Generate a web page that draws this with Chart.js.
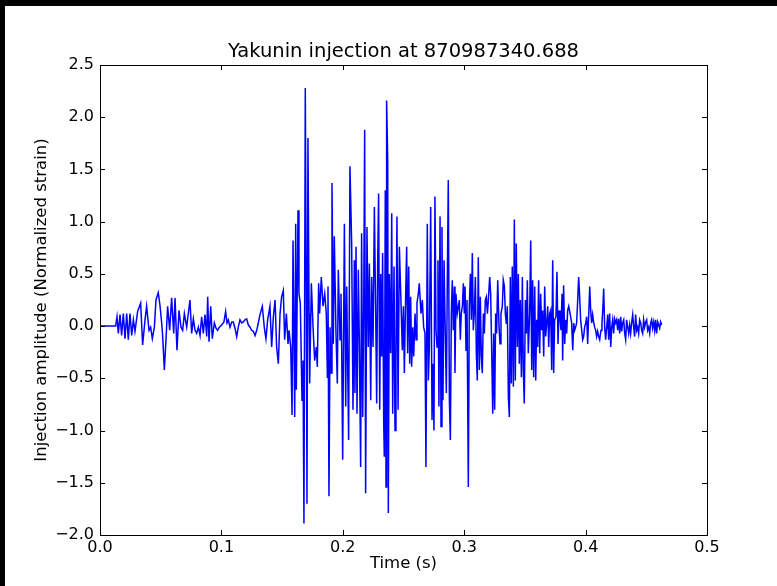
<!DOCTYPE html>
<html>
<head>
<meta charset="utf-8">
<title>Yakunin injection</title>
<script src="https://cdn.jsdelivr.net/npm/chart.js@4.4.0/dist/chart.umd.min.js"></script>
<style>
    html, body { margin: 0; padding: 0; background: #000; }
    #chart { display: block; }
</style>
</head>
<body>
<canvas id="chart" width="777" height="586"></canvas>
<script>
// yakunin.js
// Injection waveform (normalized strain vs time), matplotlib-like look

const chartTitle = 'Yakunin injection at 870987340.688';
const xLabel = 'Time (s)';
const yLabel = 'Injection amplitude (Normalized strain)';

// --- Data ---

const timeS = [
    0.0000, 0.0120, 0.0129, 0.0140, 0.0151, 0.0165, 0.0178, 0.0192, 0.0206, 0.0220,
    0.0233, 0.0247, 0.0261, 0.0275, 0.0288, 0.0310, 0.0335, 0.0351, 0.0371, 0.0384,
    0.0404, 0.0417, 0.0431, 0.0448, 0.0461, 0.0480, 0.0494, 0.0508, 0.0516, 0.0530,
    0.0544, 0.0557, 0.0574, 0.0590, 0.0607, 0.0618, 0.0634, 0.0651, 0.0667, 0.0681,
    0.0695, 0.0714, 0.0741, 0.0755, 0.0769, 0.0783, 0.0796, 0.0810, 0.0824, 0.0837,
    0.0851, 0.0865, 0.0879, 0.0887, 0.0898, 0.0912, 0.0925, 0.0942, 0.0956, 0.0969,
    0.0983, 0.1002, 0.1021, 0.1035, 0.1046, 0.1057, 0.1071, 0.1085, 0.1098, 0.1112,
    0.1126, 0.1139, 0.1153, 0.1167, 0.1181, 0.1194, 0.1208, 0.1222, 0.1236, 0.1249,
    0.1263, 0.1277, 0.1291, 0.1304, 0.1318, 0.1337, 0.1354, 0.1367, 0.1381, 0.1400,
    0.1414, 0.1428, 0.1442, 0.1455, 0.1469, 0.1483, 0.1496, 0.1510, 0.1521, 0.1535,
    0.1549, 0.1557, 0.1571, 0.1582, 0.1590, 0.1604, 0.1612, 0.1617, 0.1631, 0.1639,
    0.1650, 0.1664, 0.1672, 0.1680, 0.1691, 0.1700, 0.1705, 0.1713, 0.1722, 0.1727,
    0.1741, 0.1755, 0.1768, 0.1782, 0.1790, 0.1801, 0.1809, 0.1823, 0.1837, 0.1851,
    0.1864, 0.1873, 0.1878, 0.1886, 0.1895, 0.1903, 0.1911, 0.1922, 0.1930, 0.1944,
    0.1955, 0.1963, 0.1977, 0.1985, 0.1991, 0.1999, 0.2013, 0.2024, 0.2032, 0.2048,
    0.2059, 0.2073, 0.2084, 0.2095, 0.2100, 0.2109, 0.2117, 0.2128, 0.2136, 0.2147,
    0.2155, 0.2164, 0.2172, 0.2180, 0.2188, 0.2199, 0.2210, 0.2219, 0.2230, 0.2238,
    0.2249, 0.2260, 0.2271, 0.2279, 0.2287, 0.2295, 0.2304, 0.2312, 0.2320, 0.2328,
    0.2337, 0.2342, 0.2350, 0.2356, 0.2361, 0.2370, 0.2375, 0.2383, 0.2394, 0.2403,
    0.2411, 0.2422, 0.2430, 0.2438, 0.2446, 0.2455, 0.2466, 0.2474, 0.2482, 0.2490,
    0.2499, 0.2507, 0.2515, 0.2526, 0.2534, 0.2543, 0.2551, 0.2559, 0.2567, 0.2576,
    0.2584, 0.2595, 0.2603, 0.2611, 0.2622, 0.2630, 0.2644, 0.2655, 0.2666, 0.2677,
    0.2685, 0.2696, 0.2705, 0.2713, 0.2724, 0.2735, 0.2743, 0.2751, 0.2759, 0.2768,
    0.2776, 0.2784, 0.2792, 0.2801, 0.2809, 0.2817, 0.2825, 0.2834, 0.2845, 0.2853,
    0.2861, 0.2869, 0.2878, 0.2886, 0.2894, 0.2902, 0.2910, 0.2919, 0.2924, 0.2932,
    0.2943, 0.2952, 0.2960, 0.2968, 0.2976, 0.2985, 0.2993, 0.3001, 0.3007, 0.3015,
    0.3023, 0.3034, 0.3042, 0.3051, 0.3059, 0.3067, 0.3075, 0.3083, 0.3092, 0.3100,
    0.3108, 0.3116, 0.3125, 0.3133, 0.3141, 0.3149, 0.3158, 0.3166, 0.3174, 0.3182,
    0.3191, 0.3199, 0.3210, 0.3218, 0.3226, 0.3235, 0.3243, 0.3251, 0.3259, 0.3267,
    0.3276, 0.3287, 0.3295, 0.3303, 0.3314, 0.3322, 0.3331, 0.3339, 0.3347, 0.3355,
    0.3364, 0.3372, 0.3380, 0.3388, 0.3396, 0.3405, 0.3413, 0.3421, 0.3429, 0.3438,
    0.3446, 0.3454, 0.3462, 0.3471, 0.3479, 0.3487, 0.3495, 0.3504, 0.3512, 0.3520,
    0.3528, 0.3539, 0.3548, 0.3556, 0.3564, 0.3572, 0.3581, 0.3589, 0.3597, 0.3605,
    0.3613, 0.3622, 0.3630, 0.3638, 0.3646, 0.3655, 0.3663, 0.3671, 0.3679, 0.3688,
    0.3696, 0.3704, 0.3712, 0.3721, 0.3729, 0.3737, 0.3745, 0.3756, 0.3764, 0.3773,
    0.3781, 0.3789, 0.3797, 0.3806, 0.3811, 0.3819, 0.3828, 0.3836, 0.3844, 0.3852,
    0.3861, 0.3877, 0.3885, 0.3894, 0.3902, 0.3910, 0.3918, 0.3926, 0.3935, 0.3943,
    0.3951, 0.3959, 0.3968, 0.3976, 0.3984, 0.3992, 0.4001, 0.4009, 0.4017, 0.4025,
    0.4034, 0.4042, 0.4050, 0.4058, 0.4067, 0.4075, 0.4083, 0.4091, 0.4099, 0.4108,
    0.4116, 0.4119, 0.4127, 0.4135, 0.4143, 0.4149, 0.4157, 0.4165, 0.4174, 0.4182,
    0.4190, 0.4198, 0.4207, 0.4215, 0.4223, 0.4231, 0.4239, 0.4248, 0.4256, 0.4264,
    0.4272, 0.4281, 0.4289, 0.4297, 0.4305, 0.4314, 0.4322, 0.4330, 0.4338, 0.4347,
    0.4355, 0.4363, 0.4371, 0.4379, 0.4388, 0.4396, 0.4404, 0.4412, 0.4421, 0.4429,
    0.4437, 0.4445, 0.4454, 0.4462, 0.4470, 0.4478, 0.4486, 0.4495, 0.4503, 0.4511,
    0.4519, 0.4528, 0.4536, 0.4544, 0.4552, 0.4561, 0.4569, 0.4577, 0.4585, 0.4594,
    0.4602, 0.4610, 0.4618, 0.4627
];

const strain = [
    0.00, 0.00, 0.00, 0.09, -0.07, 0.11, -0.09, 0.12, -0.12, 0.12,
    -0.13, 0.12, -0.09, 0.06, -0.05, 0.14, 0.22, -0.18, 0.06, 0.19,
    -0.04, -0.01, -0.12, -0.01, 0.25, 0.32, 0.20, 0.03, -0.09, -0.42,
    -0.12, 0.19, -0.04, 0.27, -0.07, 0.27, -0.23, 0.15, -0.01, -0.04,
    0.12, -0.01, 0.25, -0.07, 0.07, -0.04, -0.07, -0.01, -0.09, 0.09,
    -0.07, 0.11, -0.10, 0.28, -0.15, 0.19, -0.12, 0.03, -0.02, -0.04,
    -0.01, 0.01, 0.04, 0.14, 0.03, 0.06, -0.01, 0.04, 0.04, -0.02,
    -0.10, -0.01, 0.06, 0.03, 0.04, 0.06, 0.07, 0.01, -0.01, -0.04,
    -0.05, -0.09, -0.04, 0.03, 0.11, 0.19, -0.02, -0.12, 0.06, 0.19,
    -0.20, 0.09, 0.25, -0.20, -0.36, 0.12, 0.28, 0.34, -0.13, 0.12,
    -0.17, -0.04, -0.20, -0.85, 0.82, -0.87, 0.98, -0.61, 1.11, 0.31,
    0.22, -0.71, -0.33, -1.89, 2.28, 0.12, -1.70, 1.80, 0.12, -0.55,
    0.41, -0.01, -0.33, -0.20, -0.39, 0.41, 0.12, 0.47, 0.19, 0.31,
    0.12, -0.49, 0.38, -1.63, -0.01, -0.45, 1.37, -0.17, 0.86, -0.07,
    -0.55, 0.54, -0.13, 0.31, -0.23, -1.28, 0.98, -0.77, 0.38, -1.09,
    1.53, 0.79, -0.80, 0.63, -0.64, 0.76, -0.84, 0.54, -0.13, -1.35,
    0.89, -0.87, 0.12, 1.88, -1.60, 0.95, -0.20, 0.60, -0.71, 0.47,
    -0.20, 1.14, 0.12, -0.74, 0.57, 1.27, -0.80, 0.50, -0.29, 0.70,
    -0.93, -1.25, 1.30, -1.54, 2.16, 1.59, -1.79, 0.50, -0.26, 1.08,
    -0.84, 0.57, -1.00, -0.36, 1.05, -0.80, 0.76, 0.44, 0.12, -0.23,
    0.19, -0.45, 0.12, 0.76, -0.26, 0.57, -0.36, 0.28, -0.39, -0.01,
    -0.29, 0.12, -0.13, 0.22, 0.31, 0.41, 0.12, 0.25, -0.01, -0.07,
    -1.35, 0.98, -0.52, -0.20, 1.14, -0.90, -0.36, -1.00, 1.24, -0.04,
    -0.20, 0.63, -0.77, 1.05, -0.96, 0.95, -0.71, 0.63, -0.13, -0.64,
    0.44, 1.40, -0.71, -1.09, 0.12, 0.44, -0.04, 0.38, -0.45, 0.31,
    0.12, 0.19, 0.25, -0.13, 0.12, 0.19, 0.41, 0.12, 0.38, -0.23,
    0.25, -1.54, 0.19, 0.50, 0.06, 0.70, -0.04, 0.12, 0.47, -0.26,
    -0.52, 0.66, -0.42, 0.28, -0.29, -0.45, 0.12, -0.07, 0.25, 0.28,
    0.12, 0.25, 0.47, 0.31, -0.20, -0.84, -0.07, -0.80, 0.12, -0.07,
    0.44, -0.01, -0.17, 0.12, 0.19, 0.44, 0.38, 0.12, 0.02, 0.19,
    -0.68, -0.87, 0.47, -0.55, 0.57, -0.58, 1.02, -0.52, 0.79, -0.20,
    0.50, -0.36, 0.25, -0.49, 0.47, -0.42, -0.74, 0.25, -0.07, 0.44,
    -0.26, 0.12, 0.82, -0.42, 0.44, -0.49, 0.38, -0.52, 0.06, -0.20,
    0.44, -0.26, 0.31, -0.04, 0.15, -0.29, 0.38, -0.10, 0.02, 0.19,
    -0.20, 0.12, 0.15, -0.42, 0.63, -0.45, 0.06, 0.09, 0.52, -0.17,
    0.15, 0.09, -0.04, 0.31, -0.33, 0.39, -0.17, 0.06, -0.07, 0.15,
    0.19, 0.09, 0.03, -0.23, 0.03, -0.04, -0.01, 0.03, 0.25, 0.47,
    0.28, 0.06, -0.04, -0.13, -0.10, -0.01, 0.03, 0.09, -0.17, 0.09,
    0.38, 0.15, 0.03, 0.11, 0.03, -0.01, -0.04, -0.10, -0.05, -0.10,
    -0.13, -0.10, -0.04, 0.03, 0.19, 0.36, -0.01, -0.13, -0.01, 0.11,
    -0.13, 0.12, -0.20, -0.01, 0.06, -0.07, 0.07, 0.03, 0.06, -0.04,
    0.07, -0.07, 0.09, -0.05, 0.03, 0.06, -0.07, -0.13, 0.06, -0.01,
    -0.07, 0.01, -0.07, 0.03, 0.11, -0.01, -0.10, 0.11, -0.04, -0.01,
    -0.07, 0.06, 0.03, -0.04, -0.07, 0.06, -0.01, 0.04, 0.06, -0.04,
    -0.01, -0.07, 0.03, 0.06, -0.02, 0.04, -0.04, 0.06, -0.07, 0.04,
    0.01, -0.02, 0.04, 0.01
];

// Axis limits and tick steps (matplotlib auto limits)
const xMin = 0.0, xMax = 0.5, xStep = 0.1;
const yMin = -2.0, yMax = 2.5, yStep = 0.5;

// --- Plugins ---

// black screen border around the white figure
const figureBackground = {
    id: 'figureBackground',
    beforeDraw(chart) {
        const ctx = chart.ctx;
        ctx.save();
        ctx.fillStyle = '#000';
        ctx.fillRect(0, 0, chart.width, chart.height);
        ctx.fillStyle = '#fff';
        ctx.fillRect(5, 6, chart.width - 5, chart.height - 6);
        ctx.restore();
    }
};

// matplotlib style frame: box on all four sides, ticks pointing inwards
const inwardTicks = {
    id: 'inwardTicks',
    afterDraw(chart) {
        const { ctx, chartArea: a, scales } = chart;
        const len = 5;
        ctx.save();
        ctx.strokeStyle = '#000';
        ctx.lineWidth = 1;
        ctx.beginPath();
        scales.x.ticks.forEach(t => {
            const px = Math.round(scales.x.getPixelForValue(t.value)) + 0.5;
            ctx.moveTo(px, a.bottom); ctx.lineTo(px, a.bottom - len);
            ctx.moveTo(px, a.top); ctx.lineTo(px, a.top + len);
        });
        scales.y.ticks.forEach(t => {
            const py = Math.round(scales.y.getPixelForValue(t.value)) + 0.5;
            ctx.moveTo(a.left, py); ctx.lineTo(a.left + len, py);
            ctx.moveTo(a.right, py); ctx.lineTo(a.right - len, py);
        });
        ctx.stroke();
        ctx.strokeRect(Math.round(a.left) + 0.5, Math.round(a.top) + 0.5,
            Math.round(a.right - a.left), Math.round(a.bottom - a.top));
        ctx.restore();
    }
};

// --- Build chart ---

const points = timeS.map((t, i) => ({ x: t, y: strain[i] }));
const fmt = v => v.toFixed(1).replace('-', '\u2212');

Chart.defaults.font.family = '"DejaVu Sans", sans-serif';
Chart.defaults.color = '#000';

new Chart(document.getElementById('chart'), {
    type: 'line',
    data: {
        datasets: [{
            data: points,
            borderColor: '#0000ff',
            borderWidth: 1.5,
            pointRadius: 0,
            fill: false,
            tension: 0
        }]
    },
    plugins: [figureBackground, inwardTicks],
    options: {
        responsive: false,
        animation: false,
        devicePixelRatio: 1,
        layout: { padding: { left: 0, top: 0, right: 70, bottom: 0 } },
        scales: {
            x: {
                type: 'linear',
                min: xMin,
                max: xMax,
                grid: { display: false, drawTicks: false },
                border: { display: false },
                ticks: { stepSize: xStep, padding: 3, font: { size: 16 }, callback: fmt },
                title: {
                    display: true,
                    text: xLabel,
                    font: { size: 16.5 },
                    padding: { top: 0, bottom: 12 }
                },
                afterFit: (s) => { s.height = 51; }
            },
            y: {
                min: yMin,
                max: yMax,
                grid: { display: false, drawTicks: false },
                border: { display: false },
                ticks: { stepSize: yStep, padding: 6, font: { size: 16 }, callback: fmt },
                title: {
                    display: true,
                    text: yLabel,
                    font: { size: 16.5 },
                    padding: { top: 32, bottom: 0 }
                },
                afterFit: (s) => { s.width = 100; }
            }
        },
        plugins: {
            legend: { display: false },
            tooltip: { enabled: false },
            title: {
                display: true,
                text: chartTitle,
                fullSize: false,
                font: { size: 19.5, weight: 'normal' },
                padding: { top: 40, bottom: 1.6 }
            }
        }
    }
});
</script>
</body>
</html>
